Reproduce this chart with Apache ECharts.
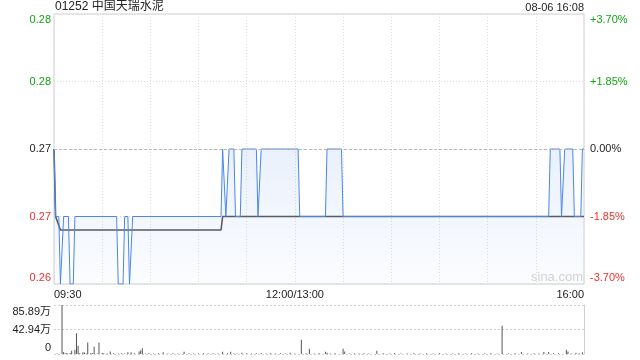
<!DOCTYPE html>
<html><head><meta charset="utf-8">
<script src="https://cdn.jsdelivr.net/npm/echarts@6/dist/echarts.min.js"></script>
<style>html,body{margin:0;padding:0;background:#fff}#c{width:640px;height:360px}</style>
</head><body><div id="c"></div>
<script>
// ---- data ----
const chartTitle = '01252 中国天瑞水泥';
const chartStamp = '08-06 16:08';
const prevClose = 0.27;
const priceMin = 0.26, priceMax = 0.28, priceStep = 0.005;
const priceTickLabels = ['0.26', '0.27', '0.27', '0.28', '0.28'];
const pctTickLabels = ['-3.70%', '-1.85%', '0.00%', '+1.85%', '+3.70%'];
const volMax = 858900;
const volTickLabels = ['0', '42.94万', '85.89万'];
const sessionMinutes = 330;          // 09:30-12:00 + 13:00-16:00
const timeTickMinutes = [0, 150, 330];
const timeTickLabels = ['09:30', '12:00/13:00', '16:00'];

// price (minute index, price) at each change point
const priceMinutes = [0, 1, 3, 4, 5, 6, 9, 10, 12, 13, 39, 40, 43, 44, 46, 47, 48, 49,
  104, 105, 106, 107, 108, 109, 112, 113, 116, 117, 126, 127, 128, 129, 152, 153,
  169, 170, 179, 180, 308, 309, 315, 316, 317, 318, 323, 324, 328, 329, 330];
const priceValues = [0.27, 0.265, 0.265, 0.26, 0.26, 0.265, 0.265, 0.26, 0.26, 0.265, 0.265, 0.26, 0.26, 0.265, 0.265, 0.26, 0.26, 0.265,
  0.265, 0.27, 0.27, 0.265, 0.265, 0.27, 0.27, 0.265, 0.265, 0.27, 0.27, 0.265, 0.265, 0.27, 0.27, 0.265,
  0.265, 0.27, 0.27, 0.265, 0.265, 0.27, 0.27, 0.265, 0.265, 0.27, 0.27, 0.265, 0.265, 0.27, 0.27];

// average price
const avgMinutes = [0, 1, 2, 4, 104, 105, 330];
const avgValues = [0.27, 0.265, 0.265, 0.264, 0.264, 0.265, 0.265];

// volume (minute index, shares)
const volMinutes = [2, 5, 6, 7, 8, 10, 11, 13, 14, 15, 16, 18, 19, 20, 21, 23, 24, 25, 27, 28, 30, 31, 33, 35, 37,
  40, 42, 44, 46, 48, 50, 53, 54, 55, 57, 59, 62, 65, 68, 71, 74, 77, 81, 84, 87, 90, 93, 96, 99, 102,
  105, 108, 110, 112, 114, 117, 120, 123, 126, 129, 132, 135, 138, 141, 144, 147, 150, 154, 157, 159,
  162, 165, 169, 170, 172, 175, 180, 181, 184, 187, 190, 193, 196, 201, 205, 209, 212, 216, 220, 224,
  228, 232, 236, 240, 244, 248, 252, 256, 260, 264, 268, 272, 276, 279, 283, 287, 291, 295, 299, 302,
  305, 308, 311, 314, 319, 320, 322, 325, 327, 329];
const volValues = [9000, 858900, 35000, 11000, 17000, 17000, 58000, 75000, 365000, 145000, 12000, 29000, 25000, 10000, 203000, 17000, 12000, 128000, 9000, 203000, 17000, 11000, 9000, 46000, 12000,
  10000, 14000, 9000, 29000, 29000, 11000, 46000, 64000, 99000, 10000, 13000, 9000, 12000, 29000, 10000, 11000, 9000, 40000, 12000, 10000, 9000, 13000, 10000, 11000, 9000,
  40000, 12000, 40000, 10000, 9000, 23000, 11000, 10000, 12000, 17000, 9000, 11000, 10000, 12000, 9000, 23000, 10000, 250000, 12000, 93000,
  10000, 11000, 40000, 23000, 9000, 12000, 93000, 46000, 10000, 11000, 9000, 12000, 10000, 58000, 11000, 9000, 12000, 10000, 9000, 11000,
  10000, 12000, 9000, 11000, 10000, 9000, 12000, 10000, 11000, 9000, 10000, 12000, 9000, 493000, 10000, 11000, 35000, 9000, 12000, 10000,
  35000, 35000, 11000, 12000, 75000, 46000, 10000, 23000, 12000, 29000];

// ---- chart ----
const FONT = 'Arial, "Liberation Sans", "Noto Sans CJK SC", sans-serif';
const GREEN = '#14a314', RED = '#f03030', BLACK = '#222';
const zip = (a, b) => a.map((v, i) => [v, b[i]]);

function labelStyleName(idx, n) {
  const color = idx < (n - 1) / 2 ? 'r' : (idx > (n - 1) / 2 ? 'g' : 'k');
  if (idx === 0) return color + 'B';
  if (idx === n - 1) return color + 'T';
  return color;
}
function rich(size) {
  const r = {};
  [['r', RED], ['g', GREEN], ['k', BLACK]].forEach(([n, c]) => {
    r[n] = { color: c, fontSize: size, fontFamily: FONT };
    r[n + 'T'] = { color: c, fontSize: size, fontFamily: FONT, padding: [12, 0, 0, 0] };
    r[n + 'B'] = { color: c, fontSize: size, fontFamily: FONT, padding: [0, 0, 12, 0] };
  });
  return r;
}
const priceIdx = v => Math.round((v - priceMin) / priceStep);

const chart = echarts.init(document.getElementById('c'), null, { renderer: 'canvas' });
const dotted = { color: '#dcdcdc', type: [1, 2], width: 1 };

chart.setOption({
  animation: false,
  backgroundColor: '#fff',
  title: [
    { text: chartTitle, left: 55, top: 1, padding: 0, textStyle: { fontSize: 12, fontWeight: 'normal', color: '#222', fontFamily: FONT } },
    { text: chartStamp, right: 56, top: 2, padding: 0, textStyle: { fontSize: 11, fontWeight: 'normal', color: '#222', fontFamily: FONT } }
  ],
  graphic: [
    { type: 'text', left: 531, top: 271, silent: true,
      style: { text: 'sina.com', fill: '#d4d4d4', font: '13px ' + FONT } }
  ],
  grid: [
    { left: 54, right: 56, top: 14, height: 270, show: true, borderColor: '#cfcfcf', borderWidth: 1 },
    { left: 54, right: 56, top: 305, height: 49 }
  ],
  xAxis: [
    { type: 'value', gridIndex: 0, min: 0, max: sessionMinutes, interval: 30,
      axisLine: { show: false }, axisTick: { show: false },
      splitLine: { show: true, lineStyle: dotted },
      axisLabel: { margin: 5, fontSize: 11, color: '#222', fontFamily: FONT,
        alignMinLabel: 'left', alignMaxLabel: 'right',
        formatter: v => { const i = timeTickMinutes.indexOf(v); return i >= 0 ? timeTickLabels[i] : ''; } } },
    { type: 'value', gridIndex: 1, min: 0, max: sessionMinutes, interval: 30,
      axisLine: { show: false }, axisTick: { show: false }, splitLine: { show: false }, axisLabel: { show: false } }
  ],
  yAxis: [
    { type: 'value', gridIndex: 0, min: priceMin, max: priceMax, interval: priceStep,
      axisLine: { show: false }, axisTick: { show: false },
      splitLine: { show: true, lineStyle: dotted },
      axisLabel: { margin: 3, rich: rich(11),
        formatter: v => { const i = priceIdx(v); return '{' + labelStyleName(i, priceTickLabels.length) + '|' + priceTickLabels[i] + '}'; } } },
    { type: 'value', gridIndex: 0, position: 'right', min: priceMin, max: priceMax, interval: priceStep,
      axisLine: { show: false }, axisTick: { show: false }, splitLine: { show: false },
      axisLabel: { margin: 6, rich: rich(11),
        formatter: v => { const i = priceIdx(v); return '{' + labelStyleName(i, pctTickLabels.length) + '|' + pctTickLabels[i] + '}'; } } },
    { type: 'value', gridIndex: 1, min: 0, max: volMax, interval: volMax / 2,
      axisLine: { show: false }, axisTick: { show: false },
      splitLine: { show: true, lineStyle: { color: '#d0d0d0', type: [2, 2], width: 1 } },
      axisLabel: { margin: 3, rich: {
          t: { color: BLACK, fontSize: 11, fontFamily: FONT, padding: [14, 0, 0, 0] },
          m: { color: BLACK, fontSize: 11, fontFamily: FONT },
          b: { color: BLACK, fontSize: 11, fontFamily: FONT, padding: [0, 0, 12, 0] } },
        formatter: v => { const i = Math.round(v / (volMax / 2)); return '{' + ['b', 'm', 't'][i] + '|' + volTickLabels[i] + '}'; } } },
    { type: 'value', gridIndex: 1, position: 'right', min: 0, max: volMax,
      axisLine: { show: true, lineStyle: { color: '#cfcfcf' } }, axisTick: { show: false },
      splitLine: { show: false }, axisLabel: { show: false } }
  ],
  series: [
    { type: 'line', name: 'avg', xAxisIndex: 0, yAxisIndex: 0, data: zip(avgMinutes, avgValues),
      showSymbol: false, z: 2, lineStyle: { color: '#5a5a5a', width: 1.6 },
      markLine: { silent: true, symbol: 'none', label: { show: false },
        lineStyle: { color: '#b8b8b8', type: [3, 2], width: 1 }, data: [{ yAxis: prevClose }] } },
    { type: 'line', name: 'price', xAxisIndex: 0, yAxisIndex: 0, data: zip(priceMinutes, priceValues),
      showSymbol: false, z: 3, lineStyle: { color: '#4a86e8', width: 1 },
      areaStyle: { origin: 'start', color: new echarts.graphic.LinearGradient(0, 0, 0, 1, [
        { offset: 0, color: 'rgba(70,130,230,0.16)' },
        { offset: 1, color: 'rgba(70,130,230,0.03)' }]) } },
    { type: 'bar', name: 'vol', xAxisIndex: 1, yAxisIndex: 2, data: zip(volMinutes, volValues),
      barWidth: 1, itemStyle: { color: '#555' } }
  ]
});
</script></body></html>
